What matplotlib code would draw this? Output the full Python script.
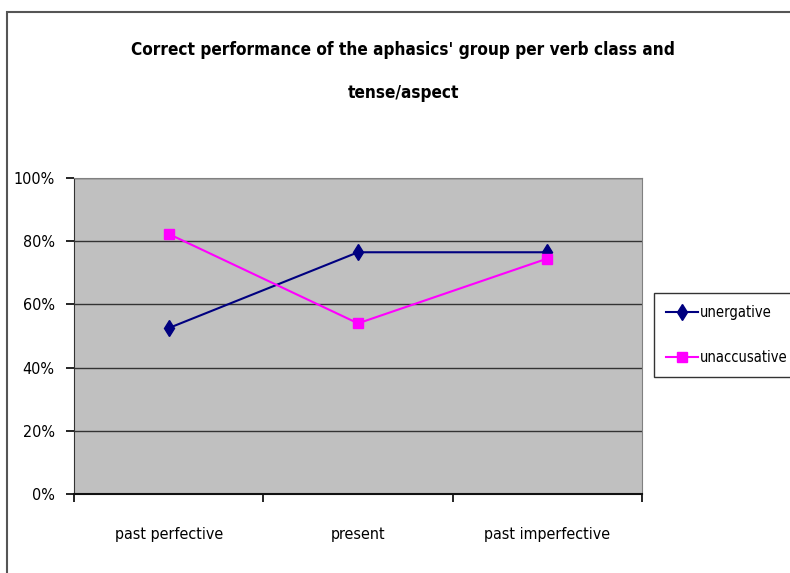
import matplotlib.pyplot as plt
from matplotlib.patches import Rectangle
from matplotlib.ticker import FixedLocator, PercentFormatter

# Data
categories = ["past perfective", "present", "past imperfective"]
unergative = [52.5, 76.5, 76.5]
unaccusative = [82.3, 54.0, 74.5]
y_ticks = [0, 20, 40, 60, 80, 100]

plt.rcParams['font.family'] = ['DejaVu Sans']
plt.rcParams['font.stretch'] = 'condensed'

W, H = 790, 573
fig = plt.figure(figsize=(W / 100, H / 100), dpi=100)

# plot area in pixel coords -> figure fraction
left, right, top, bottom = 74, 642, 178, 494
ax = fig.add_axes([left / W, 1 - bottom / H, (right - left) / W, (bottom - top) / H])
ax.set_facecolor('#c0c0c0')

x = list(range(len(categories)))
ax.plot(x, unergative, color='#000080', marker='d', markersize=8, lw=1.5,
        label='unergative')
ax.plot(x, unaccusative, color='#ff00ff', marker='s', markersize=7, lw=1.5,
        label='unaccusative')

ax.set_xlim(-0.5, 2.5)
ax.set_ylim(0, 100)
ax.set_yticks(y_ticks)
ax.yaxis.set_major_formatter(PercentFormatter(decimals=0))
ax.yaxis.grid(True, color='#333333', lw=1)
ax.set_axisbelow(True)

ax.xaxis.set_major_locator(FixedLocator([-0.5, 0.5, 1.5, 2.5]))
ax.set_xticklabels([])
ax.xaxis.set_minor_locator(FixedLocator(x))
ax.set_xticklabels(categories, minor=True)
ax.tick_params(axis='x', which='minor', length=0, pad=24, labelsize=11.5)
ax.tick_params(axis='x', which='major', length=6, width=1.2, direction='out')
ax.tick_params(axis='y', length=6, width=1.2, direction='out', labelsize=11.5, pad=8)

for side in ['top', 'right']:
    ax.spines[side].set_color('#808080')
ax.spines['left'].set_color('#333333')
ax.spines['bottom'].set_color('#111111')
ax.spines['bottom'].set_linewidth(1.5)

fig.text(403 / W, 1 - 50 / H, "Correct performance of the aphasics' group per verb class and",
         ha='center', va='center', fontsize=12.3, fontweight='bold')
fig.text(403 / W, 1 - 93 / H, "tense/aspect",
         ha='center', va='center', fontsize=12.3, fontweight='bold')

# chart area border (cut off at right and bottom edges)
fig.patches.append(Rectangle((7 / W, -0.1), 1.2, 1.1 - 12 / H, transform=fig.transFigure,
                             fill=False, edgecolor='#555555', lw=1.5))

leg = fig.legend(loc='upper left', bbox_to_anchor=(654 / W, 1 - 293 / H),
                 fontsize=10.5, frameon=True, fancybox=False, edgecolor='black',
                 handlelength=2.2, handletextpad=0.15, labelspacing=2.1,
                 borderpad=0.8, borderaxespad=0)
leg.get_frame().set_linewidth(1.0)

fig.savefig('out.png', dpi=100)
